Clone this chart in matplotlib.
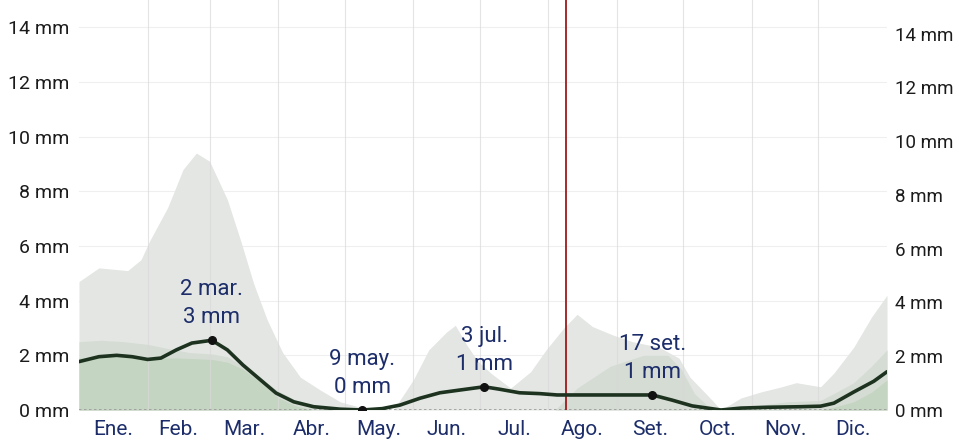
import matplotlib
matplotlib.use("Agg")
import matplotlib.pyplot as plt
from matplotlib import font_manager

# ---- data -------------------------------------------------------------
months = ["Ene.", "Feb.", "Mar.", "Abr.", "May.", "Jun.",
          "Jul.", "Ago.", "Set.", "Oct.", "Nov.", "Dic."]
month_starts = [0, 31, 59, 90, 120, 151, 181, 212, 243, 273, 304, 334, 365]

# average daily rainfall (mm), by day of year
mean_days = [0, 9, 17, 24, 31, 37, 44, 51, 60, 67, 74, 82, 89, 97, 106, 118,
             128, 137, 145, 154, 163, 172, 183, 190, 199, 208, 216, 228, 244,
             259, 268, 277, 290, 299, 311, 326, 335, 341, 350, 359, 365]
mean_mm = [1.77, 1.95, 2.0, 1.95, 1.85, 1.9, 2.2, 2.45, 2.55, 2.2, 1.65, 1.1,
           0.62, 0.3, 0.12, 0.03, 0.0, 0.05, 0.18, 0.43, 0.63, 0.73, 0.85,
           0.76, 0.63, 0.6, 0.55, 0.55, 0.55, 0.55, 0.36, 0.15, 0.0, 0.07,
           0.1, 0.12, 0.14, 0.25, 0.66, 1.05, 1.4]

# 90th percentile band
p90_days = [0, 9, 22, 28, 32, 40, 47, 53, 59, 67, 73, 79, 85, 92, 100, 109,
            118, 127, 142, 151, 158, 166, 170, 175, 180, 186, 195, 204, 211,
            219, 225, 232, 241, 250, 262, 271, 276, 286, 290, 299, 308, 317,
            324, 335, 341, 350, 358, 365]
p90_mm = [4.7, 5.2, 5.1, 5.5, 6.2, 7.4, 8.8, 9.4, 9.1, 7.7, 6.2, 4.6, 3.3,
          2.1, 1.2, 0.73, 0.3, 0.1, 0.0, 1.1, 2.2, 2.85, 3.1, 2.4, 1.8, 1.35,
          0.8, 1.4, 2.2, 3.0, 3.5, 3.05, 2.75, 2.5, 2.3, 1.9, 1.2, 0.36, 0.0,
          0.44, 0.66, 0.84, 1.0, 0.85, 1.35, 2.3, 3.4, 4.2]

# 75th percentile band
p75_days = [0, 10, 20, 31, 40, 50, 60, 67, 74, 82, 90, 98, 106, 115, 215,
            225, 240, 255, 266, 272, 278, 286, 300, 320, 335, 341, 350, 358,
            365]
p75_mm = [2.5, 2.55, 2.5, 2.4, 2.25, 2.1, 2.05, 1.95, 1.6, 1.15, 0.7, 0.35,
          0.15, 0.0, 0.0, 0.8, 1.6, 2.0, 2.0, 1.5, 0.6, 0.0, 0.1, 0.3, 0.35,
          0.6, 1.0, 1.6, 2.2]

# median band
p50_days = [0, 15, 31, 45, 60, 67, 74, 82, 90, 98, 105, 335, 341, 350, 358,
            365]
p50_mm = [1.9, 1.95, 1.9, 1.9, 1.85, 1.75, 1.5, 1.0, 0.45, 0.15, 0.0, 0.0,
          0.1, 0.3, 0.65, 1.1]

# highlighted days: (day of year, label)
note_days = [60, 128, 183, 259]
note_dates = ["2 mar.", "9 may.", "3 jul.", "17 set."]
note_mm = [2.55, 0.0, 0.85, 0.55]

today_day = 220

# ---- style ------------------------------------------------------------
available = {f.name for f in font_manager.fontManager.ttflist}
family = [f for f in ["Liberation Sans Narrow", "Roboto", "DejaVu Sans"]
          if f in available]
plt.rcParams["font.family"] = family

navy = "#1c2d6a"
ink = "#1b1b1b"

fig = plt.figure(figsize=(9.59, 4.48), dpi=100)
ax = fig.add_axes([79 / 959, 38 / 448, (887 - 79) / 959, 410 / 448])

ax.fill_between(p90_days, 0, p90_mm, color="#e3e6e3", lw=0, zorder=1)
ax.fill_between(p75_days, 0, p75_mm, color="#d5dcd4", lw=0, zorder=2)
ax.fill_between(p50_days, 0, p50_mm, color="#c4d5c1", lw=0, zorder=3)

# grid
for y in range(2, 15, 2):
    ax.axhline(y, color="#efefef", lw=0.8, zorder=0.5)
for d in month_starts[1:-1]:
    ax.axvline(d, color="#d9d9d9", lw=0.8, zorder=3.5, alpha=0.7)
ax.axhline(0, color="#9a9a9a", lw=1.2, ls=(0, (1.5, 1.5)), zorder=3.6)

ax.axvline(today_day, color="#a01a1a", lw=1.3, zorder=4)

ax.plot(mean_days, mean_mm, color="#1d3320", lw=2.6, zorder=5,
        solid_capstyle="round", solid_joinstyle="round")

for d, lab, v in zip(note_days, note_dates, note_mm):
    ax.plot(d, v, "o", color="#111111", ms=5.5, zorder=6)
    ax.annotate(f"{lab}\n{v:.0f} mm", (d, v), xytext=(0, 12),
                textcoords="offset pixels", ha="center", va="bottom",
                color=navy, fontsize=16, linespacing=1.45, zorder=7)

ax.set_xlim(0, 365)
ax.set_ylim(0, 15)
ax.set_yticks(range(0, 15, 2))
ax.set_yticklabels([f"{v} mm" for v in range(0, 15, 2)])
centers = [(a + b) / 2 for a, b in zip(month_starts[:-1], month_starts[1:])]
ax.set_xticks(centers)
ax.set_xticklabels(months, color=navy, fontsize=15)
ax.tick_params(axis="x", length=0, pad=7)
ax.tick_params(axis="y", length=0, pad=7, labelsize=14, labelcolor=ink)
for s in ax.spines.values():
    s.set_visible(False)

# right-hand scale
ax2 = ax.twinx()
ax2.set_ylim(0, 15.25)
ax2.set_yticks(range(0, 15, 2))
ax2.set_yticklabels([f"{v} mm" for v in range(0, 15, 2)])
ax2.tick_params(axis="y", length=0, pad=6, labelsize=13.5, labelcolor=ink)
for s in ax2.spines.values():
    s.set_visible(False)

fig.savefig("out.png", dpi=100)
